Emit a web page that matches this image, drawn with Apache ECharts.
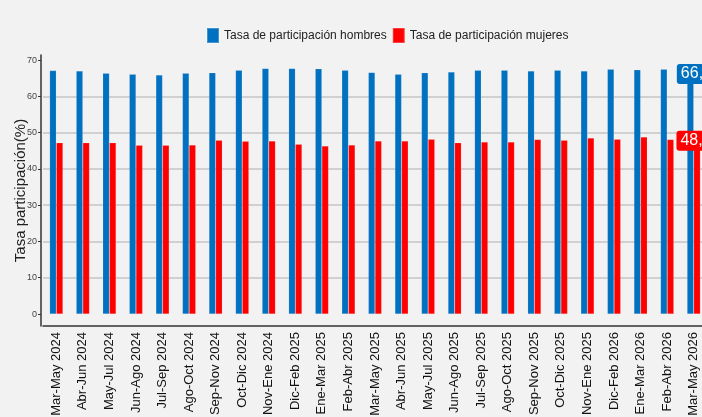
<!DOCTYPE html>
<html>
<head>
<meta charset="utf-8">
<script src="https://cdn.jsdelivr.net/npm/echarts@6/dist/echarts.min.js"></script>
<style>
html,body{margin:0;padding:0;background:#f2f2f2;}
#chart{width:702px;height:417px;}
</style>
</head>
<body>
<div id="chart"></div>
<script>
const categories = [
  "Mar-May 2024","Abr-Jun 2024","May-Jul 2024","Jun-Ago 2024","Jul-Sep 2024","Ago-Oct 2024",
  "Sep-Nov 2024","Oct-Dic 2024","Nov-Ene 2024","Dic-Feb 2025","Ene-Mar 2025","Feb-Abr 2025",
  "Mar-May 2025","Abr-Jun 2025","May-Jul 2025","Jun-Ago 2025","Jul-Sep 2025","Ago-Oct 2025",
  "Sep-Nov 2025","Oct-Dic 2025","Nov-Ene 2025","Dic-Feb 2026","Ene-Mar 2026","Feb-Abr 2026",
  "Mar-May 2026"
];
const hombres = [67.1,67.0,66.4,66.1,65.9,66.4,66.5,67.2,67.7,67.7,67.6,67.2,66.6,66.1,66.5,66.7,67.2,67.2,67.0,67.2,67.0,67.5,67.3,67.5,66.6];
const mujeres = [47.2,47.2,47.2,46.5,46.5,46.6,47.9,47.6,47.7,46.8,46.3,46.6,47.7,47.7,48.2,47.2,47.4,47.4,48.1,47.9,48.5,48.2,48.8,48.1,48.2];
const yTicks = [0,10,20,30,40,50,60,70];
const seriesNames = ["Tasa de participación hombres","Tasa de participación mujeres"];
const colors = ["#0070c0","#ff0000"];

function fmt(v){ return v.toFixed(1).replace('.', ','); }

function buildData(values, color, dx){
  return values.map(function(v, i){
    if (i !== values.length - 1) return v;
    return {
      value: v,
      label: {
        show: true,
        position: 'top',
        distance: 0,
        offset: [dx, 11.5],
        formatter: function(p){ return fmt(p.value); },
        color: '#fff',
        fontSize: 16,
        fontFamily: 'Liberation Sans, Arial, sans-serif',
        backgroundColor: color,
        borderRadius: 3,
        padding: [2, 4, 2, 4]
      }
    };
  });
}

const chart = echarts.init(document.getElementById('chart'));
chart.setOption({
  backgroundColor: '#f2f2f2',
  animation: false,
  textStyle: { fontFamily: 'Liberation Sans, Arial, sans-serif' },
  legend: {
    left: 201,
    top: 22,
    itemWidth: 12,
    itemHeight: 15,
    itemGap: 5,
    icon: 'rect',
    textStyle: { fontSize: 12, color: '#222' },
    data: seriesNames
  },
  grid: { left: 43, right: -5, top: 55, bottom: 91, containLabel: false, outerBoundsMode: 'none' },
  xAxis: {
    type: 'category',
    data: categories,
    axisLine: { onZero: false, lineStyle: { color: '#333', width: 1.5 } },
    axisTick: { alignWithLabel: true, length: 4, lineStyle: { color: '#333' } },
    axisLabel: { rotate: 90, fontSize: 13, color: '#111', margin: 6, interval: 0 }
  },
  yAxis: {
    type: 'value',
    min: -3.3,
    max: 71.4,
    splitNumber: 7,
    offset: 2,
    name: 'Tasa participación(%)',
    nameLocation: 'middle',
    nameGap: 13,
    nameMoveOverlap: false,
    nameTextStyle: { fontSize: 15, color: '#222' },
    axisLine: { show: true, onZero: false, lineStyle: { color: '#333', width: 1.5 } },
    axisTick: { show: true, length: 3, customValues: yTicks, lineStyle: { color: '#333' } },
    axisLabel: { fontSize: 9, color: '#444', margin: 4, customValues: yTicks },
    splitLine: { showMinLine: false, showMaxLine: false, lineStyle: { color: '#c4c4c4', width: 1.5 } }
  },
  series: [
    {
      name: seriesNames[0],
      type: 'bar',
      barWidth: '25%',
      barGap: '0%',
      itemStyle: { color: colors[0], borderColor: 'rgba(255,255,255,0.25)', borderWidth: 0.5 },
      data: buildData(hombres, colors[0], 6)
    },
    {
      name: seriesNames[1],
      type: 'bar',
      barWidth: '25%',
      barGap: '0%',
      itemStyle: { color: colors[1], borderColor: 'rgba(255,255,255,0.25)', borderWidth: 0.5 },
      data: buildData(mujeres, colors[1], -1)
    }
  ]
});
</script>
</body>
</html>
